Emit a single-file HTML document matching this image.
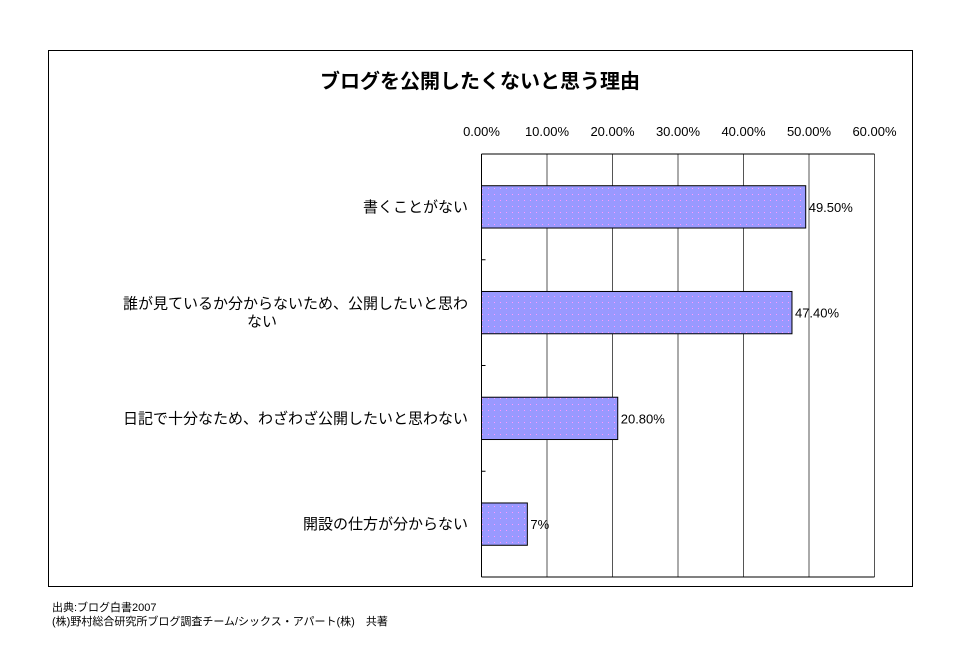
<!DOCTYPE html>
<html><head><meta charset="utf-8"><style>
body{margin:0;background:#fff;font-family:"Liberation Sans","Noto Sans CJK JP",sans-serif;}
</style></head><body>
<svg width="960" height="660" xmlns="http://www.w3.org/2000/svg" font-family="Liberation Sans, Noto Sans CJK JP, sans-serif">
<defs><pattern id="dots" width="6" height="6" patternUnits="userSpaceOnUse"><rect width="6" height="6" fill="#9999ff"/><rect x="2" y="2" width="1" height="1" fill="#ff99ff"/></pattern></defs>
<rect x="48.5" y="50.5" width="864" height="536" fill="#fff" stroke="#000"/>
<text x="480" y="88" text-anchor="middle" font-size="20" font-weight="bold">ブログを公開したくないと思う理由</text>
<g id="g"></g>
<text x="52" y="611" font-size="11">出典:ブログ白書2007</text>
<text x="52" y="625" font-size="11">(株)野村総合研究所ブログ調査チーム/シックス・アパート(株)　共著</text>
</svg>
<script>
const categories=[["書くことがない"],["誰が見ているか分からないため、公開したいと思わ","ない"],["日記で十分なため、わざわざ公開したいと思わない"],["開設の仕方が分からない"]];
const values=[49.5,47.4,20.8,7];
const valueLabels=["49.50%","47.40%","20.80%","7%"];
const ticks=[0,10,20,30,40,50,60];
const tickLabels=["0.00%","10.00%","20.00%","30.00%","40.00%","50.00%","60.00%"];
const NS="http://www.w3.org/2000/svg",g=document.getElementById('g');
const L=481.5,R=874.5,T=154,B=577,band=(B-T)/categories.length;
const x=v=>L+(v/60)*(R-L);
function mk(t,a){const e=document.createElementNS(NS,t);for(const k in a)e.setAttribute(k,a[k]);g.appendChild(e);return e;}
ticks.forEach((t,i)=>{
 const l=mk('line',{x1:x(t),x2:x(t),y1:T,y2:B,stroke:i==0?'#000':'#555','stroke-width':1});
 
 
 const tx=mk('text',{x:x(t),y:136,'text-anchor':'middle','font-size':13});
 tx.textContent=tickLabels[i];
 
 
});
const plotTop=mk('line',{x1:L,x2:R,y1:T,y2:T,stroke:'#000'});


const bot=mk('line',{x1:L,x2:R,y1:B,y2:B,stroke:'#000'});


for(let i=1;i<categories.length;i++){
 const tk=mk('line',{x1:L,x2:L+4,y1:T+band*i,y2:T+band*i,stroke:'#000'});
 
 
}
categories.forEach((c,i)=>{
 const cy=T+band*(i+0.5),h=band*0.4;
 const r=mk('rect',{x:L,y:cy-h/2,width:x(values[i])-L,height:h,fill:'url(#dots)',stroke:'#000'});
 
 
 const v=mk('text',{x:x(values[i])+3,y:cy+5,'font-size':13});
 v.textContent=valueLabels[i];
 
 
 c.forEach((line,j)=>{
  const second=c.length>1&&j==1;
  const t=mk('text',{x:second?262:468,y:cy+5+(j-(c.length-1)/2)*18,'text-anchor':second?'middle':'end','font-size':15});
  t.textContent=line;
  
  
 });
});
</script>
</body></html>
